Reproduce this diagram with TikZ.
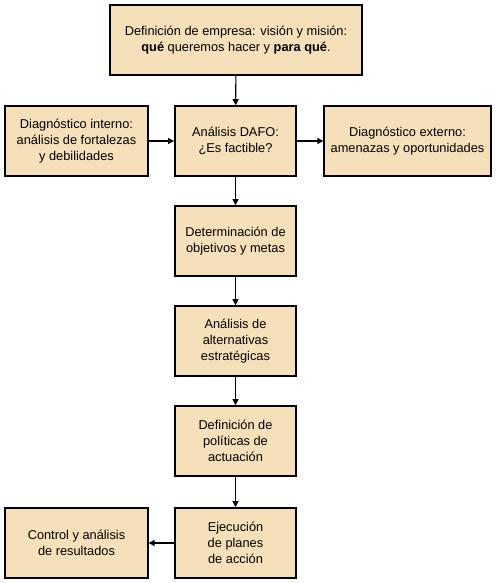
\documentclass[tikz,border=0pt]{standalone}
\usepackage{fontspec}
\setmainfont{Liberation Sans}
\usetikzlibrary{arrows.meta,positioning}

\begin{document}
\begin{tikzpicture}[x=0.75pt, y=-0.75pt,
  caja/.style={rectangle, draw, line width=1.2pt, fill={rgb,255:red,245;green,224;blue,185},
    align=center, inner sep=0pt, minimum height=52.5pt, font=\fontsize{9.6}{11.8}\selectfont},
  flecha/.style={-{Triangle[length=4.5pt,width=4.5pt]}, line width=0.8pt}]
  \useasboundingbox (0,0) rectangle (497,583);
  \node[caja, minimum width=189pt] (mision) at (236,40) {Definición de empresa: visión y misión:\\\textbf{qué} queremos hacer y \textbf{para qué}.};
  \node[caja, minimum width=107pt] (interno) at (76.5,141) {Diagnóstico interno:\\análisis de fortalezas\\y debilidades};
  \node[caja, minimum width=91pt] (dafo) at (235.5,141) {Análisis DAFO:\\¿Es factible?};
  \node[caja, minimum width=125pt] (externo) at (407.5,141) {Diagnóstico externo:\\amenazas y oportunidades};
  \node[caja, minimum width=91pt] (objetivos) at (235.5,241) {Determinación de\\objetivos y metas};
  \node[caja, minimum width=91pt] (alternativas) at (235.5,341) {Análisis de\\alternativas\\estratégicas};
  \node[caja, minimum width=91pt] (politicas) at (235.5,441) {Definición de\\políticas de\\actuación};
  \node[caja, minimum width=91pt] (ejecucion) at (235.5,543) {Ejecución\\de planes\\de acción};
  \node[caja, minimum width=107pt] (control) at (76.5,543) {Control y análisis\\de resultados};

  \draw[flecha] (mision) -- (dafo);
  \draw[flecha] (interno) -- (dafo);
  \draw[flecha] (dafo) -- (externo);
  \draw[flecha] (dafo) -- (objetivos);
  \draw[flecha] (objetivos) -- (alternativas);
  \draw[flecha] (alternativas) -- (politicas);
  \draw[flecha] (politicas) -- (ejecucion);
  \draw[flecha] (ejecucion) -- (control);
\end{tikzpicture}
\end{document}
